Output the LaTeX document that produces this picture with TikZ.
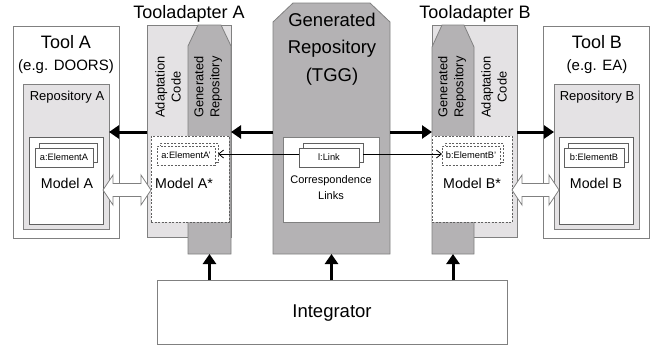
\documentclass[tikz,border=0pt]{standalone}
\usepackage{fontspec}
\setmainfont{Liberation Sans}
\usetikzlibrary{arrows.meta,calc}

\definecolor{edgegray}{RGB}{128,128,128}
\definecolor{darkedge}{RGB}{96,96,96}
\definecolor{colfill}{RGB}{180,178,180}
\definecolor{panelfill}{RGB}{228,226,228}

% Chamfered column: node name, corner dx, corner dy, style
\newcommand{\chamfercol}[4]{%
  \draw[#4] (#1.south west) -- ([yshift=-#3]#1.north west)
    -- ([xshift=#2]#1.north west) -- ([xshift=-#2]#1.north east)
    -- ([yshift=-#3]#1.north east) -- (#1.south east) -- cycle;}

% Hollow double block arrow between two nodes at the height of a coordinate
\newcommand{\hollowarrow}[3]{%
  \draw[hollow] let \p1=(#1.east), \p2=(#2.west), \p3=(#3) in
    (\x1,\y3) -- (\x1+10pt,\y3+15pt) -- (\x1+10pt,\y3+6.5pt)
    -- (\x2-10pt,\y3+6.5pt) -- (\x2-10pt,\y3+15pt) -- (\x2,\y3)
    -- (\x2-10pt,\y3-15pt) -- (\x2-10pt,\y3-6.5pt)
    -- (\x1+10pt,\y3-6.5pt) -- (\x1+10pt,\y3-15pt) -- cycle;}

\tikzset{
  box/.style={draw=edgegray, line width=0.8pt, inner sep=0pt, outer sep=0pt,
    anchor=north west, fill=white},
  panel/.style={box, fill=panelfill},
  modelbox/.style={box, draw=darkedge},
  dashbox/.style={box, draw=darkedge, dash pattern=on 2pt off 1.5pt},
  elem/.style={box, draw=darkedge, minimum width=58pt, minimum height=19pt,
    font=\fontsize{9.3}{10}\selectfont},
  dashelem/.style={elem, dash pattern=on 2pt off 1.5pt},
  colbase/.style={inner sep=0pt, outer sep=0pt, anchor=north west},
  colshape/.style={draw=edgegray, line width=0.8pt, fill=colfill},
  hollow/.style={draw=edgegray, line width=0.8pt, fill=white},
  bigarrow/.style={line width=3pt, -{Triangle[length=10pt,width=13pt]}},
  thinarrow/.style={line width=0.8pt, -{Straight Barb[length=5pt,width=8pt]}},
  title/.style={font=\fontsize{18}{20}\selectfont, inner sep=0pt},
  subtitle/.style={font=\fontsize{15}{17}\selectfont, inner sep=0pt},
  repolabel/.style={font=\fontsize{13}{15}\selectfont, inner sep=0pt},
  modellabel/.style={font=\fontsize{14.2}{16}\selectfont, inner sep=0pt},
  sidelabel/.style={font=\fontsize{12.8}{16}\selectfont, align=center,
    rotate=90, inner sep=0pt},
}

\begin{document}
\begin{tikzpicture}[x=1pt, y=-1pt]
\useasboundingbox (0,0) rectangle (652,348);

% ---------- Tool A ----------
\node[box, minimum width=106pt, minimum height=212pt] (toolA) at (13,26) {};
\node[panel, minimum width=86pt, minimum height=145pt] (repA) at (23,84) {};
\node[modelbox, minimum width=74pt, minimum height=87pt] (mA) at (29,137) {};
\node[elem] (eAback) at (39,143) {};
\node[elem] (eA) at (35,148) {a:ElementA};
\node[title] (toolAt) at (66,42) {Tool A};
\node[subtitle] (toolAs) at (66,67) {(e.g. DOORS)};
\node[repolabel] (repAt) at (67,97) {Repository A};
\node[modellabel] (mAt) at (67,183) {Model A};

% ---------- Tooladapter A ----------
\node[panel, minimum width=84pt, minimum height=212pt] (adA) at (147,25) {};
\node[colbase, minimum width=43pt, minimum height=229pt] (gA) at (188,25) {};
\chamfercol{gA}{10pt}{21pt}{colshape}
\node[title] (adAt) at (189,14) {Tooladapter A};
\node[sidelabel] (adAcode) at (168,87) {Adaptation\\Code};
\node[sidelabel] (gAt) at (208,87) {Generated\\Repository};
\node[dashbox, minimum width=78pt, minimum height=86pt] (mAs) at (151,136) {};
\node[dashelem] (eApB) at (160,143) {};
\node[dashelem] (eAp) at (157,146) {a:ElementA'};
\node[modellabel] (mAst) at (184,183) {Model A*};

% ---------- Generated repository (TGG) ----------
\node[colbase, minimum width=117pt, minimum height=251pt] (tgg) at (273,3) {};
\chamfercol{tgg}{20pt}{19pt}{colshape}
\node[title, align=center, font=\fontsize{18.5}{27.5}\selectfont] (tggt) at (332,49) {Generated\\Repository\\(TGG)};
\node[box, minimum width=96pt, minimum height=85pt] (corr) at (283,137) {};
\node[elem, minimum width=60pt] (linkB) at (303,143) {};
\node[elem, minimum width=60pt] (link) at (299,148) {l:Link};
\node[align=center, inner sep=0pt, font=\fontsize{11}{16}\selectfont] (corrt) at (331,188) {Correspondence\\Links};

% ---------- Tooladapter B ----------
\node[panel, minimum width=85pt, minimum height=212pt] (adB) at (432,25) {};
\node[colbase, minimum width=42pt, minimum height=229pt] (gB) at (432,25) {};
\chamfercol{gB}{10pt}{22pt}{colshape}
\node[title] (adBt) at (475,14) {Tooladapter B};
\node[sidelabel] (gBt) at (452,87) {Generated\\Repository};
\node[sidelabel] (adBcode) at (494,87) {Adaptation\\Code};
\node[dashbox, minimum width=80pt, minimum height=86pt] (mBs) at (432,136) {};
\node[dashelem] (eBpB) at (445,143) {};
\node[dashelem] (eBp) at (442,146) {b:ElementB'};
\node[modellabel] (mBst) at (472,183) {Model B*};

% ---------- Tool B ----------
\node[box, minimum width=106pt, minimum height=212pt] (toolB) at (543,26) {};
\node[panel, minimum width=85pt, minimum height=145pt] (repB) at (554,84) {};
\node[modelbox, minimum width=74pt, minimum height=87pt] (mB) at (559,137) {};
\node[elem, minimum width=60pt] (eBback) at (568,143) {};
\node[elem, minimum width=60pt] (eB) at (564,148) {b:ElementB};
\node[title] (toolBt) at (597,42) {Tool B};
\node[subtitle] (toolBs) at (597,67) {(e.g. EA)};
\node[repolabel] (repBt) at (597,97) {Repository B};
\node[modellabel] (mBt) at (596,183) {Model B};

% ---------- Integrator ----------
\node[box, minimum width=350pt, minimum height=64pt] (integ) at (157,280) {};
\node[title, font=\fontsize{18.5}{20}\selectfont] (integt) at (332,313) {Integrator};

% ---------- Connectors ----------
\coordinate (thickrow) at (0,132);
\coordinate (thinrow) at (0,154);
\coordinate (hollowrow) at (0,190);

\draw[bigarrow] (adA.west |- thickrow) -- (repA.east |- thickrow);
\draw[bigarrow] (tgg.west |- thickrow) -- (adA.east |- thickrow);
\draw[bigarrow] (tgg.east |- thickrow) -- (adB.west |- thickrow);
\draw[bigarrow] (adB.east |- thickrow) -- (repB.west |- thickrow);

\draw[thinarrow] (link.west |- thinrow) -- (eApB.east |- thinrow);
\draw[thinarrow] (linkB.east |- thinrow) -- (eBp.west |- thinrow);

\hollowarrow{mA}{mAs}{hollowrow}
\hollowarrow{mBs}{mB}{hollowrow}

\draw[bigarrow] (integ.north -| gA.south) -- (gA.south);
\draw[bigarrow] (integ.north -| tgg.south) -- (tgg.south);
\draw[bigarrow] (integ.north -| gB.south) -- (gB.south);
\end{tikzpicture}
\end{document}
